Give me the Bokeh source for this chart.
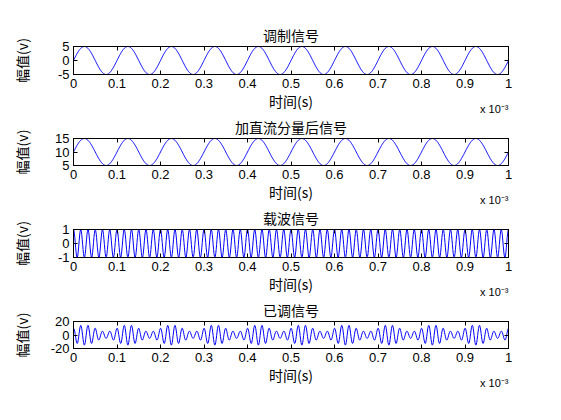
import numpy as np
from bokeh.plotting import figure
from bokeh.layouts import column
from bokeh.models import LinearAxis, FixedTicker, Range1d, Title
from bokeh.embed import file_html
from bokeh.resources import INLINE

# ---- values ----
t_end_ms = 1.0          # x axis: 0 .. 1 (x 10^-3 s)
dt_ms = 0.001           # sample step
fm_cycles_per_ms = 10   # modulating signal: 10 periods across the axis
fc_cycles_per_ms = 60   # carrier: about 60 periods across the axis
mod_amp = 5             # modulating amplitude (+-5)
dc_offset = 10          # DC shift (5 .. 15)
carrier_amp = 1         # carrier amplitude (+-1)

titles = ["调制信号", "加直流分量后信号", "载波信号", "已调信号"]
x_ticks = [0, 0.1, 0.2, 0.3, 0.4, 0.5, 0.6, 0.7, 0.8, 0.9, 1]
x_tick_labels = ["0", "0.1", "0.2", "0.3", "0.4", "0.5", "0.6", "0.7", "0.8", "0.9", "1"]
y_ticks = [[-5, 0, 5], [5, 10, 15], [-1, 0, 1], [-20, 0, 20]]
y_tick_labels = [["-5", "0", "5"], ["5", "10", "15"], ["-1", "0", "1"], ["-20", "0", "20"]]
y_limits = [(-5, 5), (5, 15), (-1, 1), (-20, 20)]
x_label = "时间(s)"
y_label = "幅值(v)"
x_multiplier = "x 10⁻³"

# ---- series ----
t = np.arange(0, t_end_ms + dt_ms / 2, dt_ms)
modulating = mod_amp * np.sin(2 * np.pi * fm_cycles_per_ms * t)
shifted = dc_offset + modulating
carrier = carrier_amp * np.cos(2 * np.pi * fc_cycles_per_ms * t)
modulated = shifted * carrier
series = [modulating, shifted, carrier, modulated]

# ---- layout (pixels) ----
fig_heights = [113, 91, 92, 124]
border_tops = [46, 24, 25, 24]
frame_h = 28
left_b, right_b = 73, 53
W = 561
ylabel_standoff = [23, 20, 23, 16]

CJK = "Noto Sans CJK SC"
LAT = "Liberation Sans"

figs = []
for i in range(4):
    h = fig_heights[i]
    bt = border_tops[i]
    bb = h - bt - frame_h
    p = figure(width=W, height=h, output_backend="svg", toolbar_location=None,
               x_range=Range1d(0, t_end_ms), y_range=Range1d(*y_limits[i]),
               min_border_left=left_b, min_border_right=right_b,
               min_border_top=bt, min_border_bottom=bb,
               x_axis_label=x_label, y_axis_label=y_label)
    p.line(t, series[i], line_color="#0000ff", line_width=1)

    p.grid.visible = False
    p.outline_line_color = "black"
    p.outline_line_width = 1
    p.background_fill_color = "white"
    p.border_fill_color = "white"

    xa = p.xaxis[0]
    xa.ticker = FixedTicker(ticks=x_ticks)
    xa.major_label_overrides = {x_ticks[k]: x_tick_labels[k] for k in range(len(x_ticks))}
    ya = p.yaxis[0]
    ya.ticker = FixedTicker(ticks=y_ticks[i])
    ya.major_label_overrides = {y_ticks[i][k]: y_tick_labels[i][k] for k in range(3)}

    for ax in (xa, ya):
        ax.major_tick_in = 4
        ax.major_tick_out = 0
        ax.minor_tick_line_color = None
        ax.axis_line_color = "black"
        ax.major_tick_line_color = "black"
        ax.major_label_text_font = LAT
        ax.major_label_text_font_size = "13px"
        ax.major_label_text_color = "black"
        ax.axis_label_text_font = CJK
        ax.axis_label_text_font_size = "14px"
        ax.axis_label_text_font_style = "normal"
        ax.axis_label_text_color = "black"
    xa.major_label_standoff = 4
    xa.axis_label_standoff = 0
    ya.major_label_standoff = 4
    ya.axis_label_standoff = ylabel_standoff[i]

    # mirrored inward ticks on top and right (box on), no labels
    top_ax = LinearAxis(ticker=FixedTicker(ticks=x_ticks), major_tick_in=4, major_tick_out=0,
                        minor_tick_line_color=None, major_label_text_font_size="1px",
                        major_label_text_color=None, major_label_standoff=0,
                        axis_line_color="black")
    right_ax = LinearAxis(ticker=FixedTicker(ticks=y_ticks[i]), major_tick_in=4, major_tick_out=0,
                          minor_tick_line_color=None, major_label_text_font_size="1px",
                          major_label_text_color=None, major_label_standoff=0,
                          axis_line_color="black")
    p.add_layout(top_ax, "above")
    p.add_layout(right_ax, "right")

    # title
    p.title.text = titles[i]
    p.title.align = "center"
    p.title.text_font = CJK
    p.title.text_font_size = "14px"
    p.title.text_font_style = "normal"
    p.title.text_color = "black"
    p.title.standoff = 3

    # axis multiplier  x 10^-3
    p.add_layout(Title(text=x_multiplier, align="right", vertical_align="top",
                       text_font=LAT, text_font_size="11px", text_font_style="normal",
                       text_color="black", standoff=-22), "below")
    figs.append(p)

layout = column(*figs, spacing=0)
open("out.html", "w").write(file_html(layout, INLINE))
